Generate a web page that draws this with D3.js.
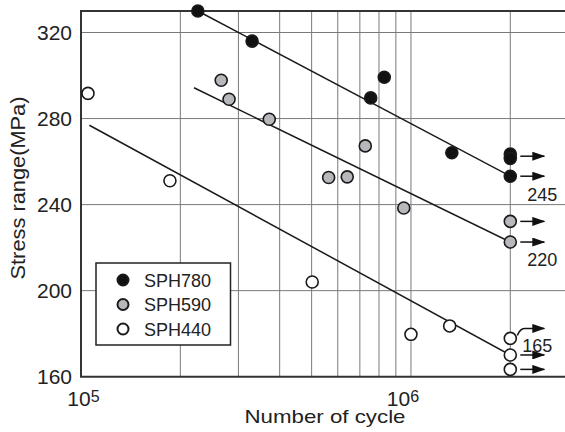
<!doctype html>
<html lang="en">
<head>
<meta charset="utf-8">
<title>Stress range vs number of cycle</title>
<script src="https://d3js.org/d3.v7.min.js"></script>
<style>
  body { margin: 0; background: #fff; }
  text { font-family: "Liberation Sans", Arial, sans-serif; fill: #222; }
</style>
</head>
<body>
<svg id="chart" width="565" height="432"></svg>
<script>
// measured data (cycles, stress range in MPa)
const sph780N = [2.26e5, 3.3e5, 7.55e5, 8.3e5, 1.33e6, 2e6, 2e6, 2e6];
const sph780S = [330, 316, 289.6, 299.2, 264.1, 263.5, 261.5, 253.2];
const sph590N = [2.66e5, 2.81e5, 3.72e5, 5.63e5, 6.41e5, 7.27e5, 9.51e5, 2e6, 2e6];
const sph590S = [297.8, 289.0, 279.7, 252.6, 252.9, 267.3, 238.4, 232.2, 222.6];
const sph440N = [1.05e5, 1.86e5, 5.02e5, 1e6, 1.31e6, 2e6, 2e6, 2e6];
const sph440S = [291.7, 251.1, 204.0, 179.7, 183.6, 177.8, 170.1, 163.4];

// S-N regression lines (end points)
const fit780 = [[2.26e5, 330], [2e6, 253.2]];
const fit590 = [[2.2e5, 294.3], [2e6, 222.6]];
const fit440 = [[1.06e5, 276.9], [2e6, 170.1]];

// run-outs at 2e6 cycles (arrow stress levels)
const runout780 = [262.5, 253.2];
const runout590 = [232.2, 222.6];
const runout440 = [170.1, 163.4];
const bentRunout440 = [177.8];

const limitLabels = ["245", "220", "165"];
const seriesNames = ["SPH780", "SPH590", "SPH440"];
const seriesFill = ["#111", "#b6b8bc", "#fff"];
const yTicks = [160, 200, 240, 280, 320];
const xGrid = [2e5, 3e5, 4e5, 5e5, 6e5, 7e5, 8e5, 9e5, 1e6, 2e6];

const svg = d3.select("#chart");
const x = d3.scaleLog().domain([1e5, 3e6]).range([81, 568.4]);
const y = d3.scaleLinear().domain([160, 330]).range([376.7, 11]);

// grid
svg.append("g").selectAll("line").data(xGrid).join("line")
  .attr("x1", d => x(d)).attr("x2", d => x(d))
  .attr("y1", y(330)).attr("y2", y(160))
  .attr("stroke", "#7a7a7a").attr("stroke-width", 1);
svg.append("g").selectAll("line").data(yTicks.slice(1)).join("line")
  .attr("x1", x(1e5)).attr("x2", 565)
  .attr("y1", d => y(d)).attr("y2", d => y(d))
  .attr("stroke", "#7a7a7a").attr("stroke-width", 1);

// frame
svg.append("path")
  .attr("d", `M565,${y(330)}H${x(1e5)}V${y(160)}H565`)
  .attr("fill", "none").attr("stroke", "#333").attr("stroke-width", 2);

// y tick labels
svg.append("g").selectAll("text").data(yTicks).join("text")
  .attr("x", 72).attr("y", d => y(d) + 7.5)
  .attr("text-anchor", "end").attr("font-size", 21)
  .text(d => d);

// x tick labels (10^n)
const xLab = [[1e5, "5", 2.5], [1e6, "6", -8]];
xLab.forEach(([v, p, off]) => {
  const t = svg.append("text")
    .attr("x", x(v) + off).attr("y", 406)
    .attr("text-anchor", "middle").attr("font-size", 21);
  t.append("tspan").text("10");
  t.append("tspan").attr("font-size", 16).attr("dy", -4.5).text(p);
});

// axis titles
svg.append("text")
  .attr("x", 325).attr("y", 423).attr("text-anchor", "middle")
  .attr("font-size", 19).attr("textLength", 161).attr("lengthAdjust", "spacingAndGlyphs")
  .text("Number of cycle");
svg.append("text")
  .attr("transform", "translate(25,188) rotate(-90)")
  .attr("text-anchor", "middle").attr("font-size", 20.5)
  .attr("textLength", 183).attr("lengthAdjust", "spacingAndGlyphs")
  .text("Stress range(MPa)");

// regression lines
const line = d3.line().x(d => x(d[0])).y(d => y(d[1]));
[fit780, fit590, fit440].forEach(f => {
  svg.append("path").attr("d", line(f))
    .attr("fill", "none").attr("stroke", "#1a1a1a").attr("stroke-width", 1.5);
});

// run-out arrows
svg.append("defs").append("marker")
  .attr("id", "arr").attr("viewBox", "0 0 13 9")
  .attr("refX", 12).attr("refY", 4.5)
  .attr("markerWidth", 13).attr("markerHeight", 9)
  .attr("markerUnits", "userSpaceOnUse").attr("orient", "auto")
  .append("path").attr("d", "M0,0L13,4.5L0,9Z").attr("fill", "#111");

const xr = x(2e6);
[...runout780, ...runout590, ...runout440].forEach(s => {
  svg.append("line")
    .attr("x1", xr + 10).attr("x2", xr + 34)
    .attr("y1", y(s)).attr("y2", y(s))
    .attr("stroke", "#111").attr("stroke-width", 1.5)
    .attr("marker-end", "url(#arr)");
});
bentRunout440.forEach(s => {
  const y0 = y(s);
  svg.append("path")
    .attr("d", `M${xr + 7},${y0 - 3}Q${xr + 10},${y0 - 10} ${xr + 14},${y0 - 10}H${xr + 34}`)
    .attr("fill", "none").attr("stroke", "#111").attr("stroke-width", 1.5)
    .attr("marker-end", "url(#arr)");
});

// points
const series = [[sph780N, sph780S], [sph590N, sph590S], [sph440N, sph440S]];
series.forEach(([ns, ss], i) => {
  svg.append("g").selectAll("circle").data(ns.map((n, j) => [n, ss[j]])).join("circle")
    .attr("cx", d => x(d[0])).attr("cy", d => y(d[1])).attr("r", 6)
    .attr("fill", seriesFill[i]).attr("stroke", "#1a1a1a").attr("stroke-width", 1.6);
});

// fatigue limit labels
const labPos = [y(runout780[1]) + 25, y(runout590[1]) + 24, y(bentRunout440[0]) + 14];
limitLabels.forEach((t, i) => {
  svg.append("text")
    .attr("x", i === 2 ? xr + 12 : xr + 17).attr("y", labPos[i])
    .attr("font-size", 18).text(t);
});

// legend
const lg = svg.append("g");
lg.append("rect").attr("x", 96).attr("y", 263).attr("width", 134.5).attr("height", 82)
  .attr("fill", "#fff").attr("stroke", "#222").attr("stroke-width", 1.5);
seriesNames.forEach((nm, i) => {
  const cy = 280 + i * 24.5;
  lg.append("circle").attr("cx", 123).attr("cy", cy).attr("r", 5.5)
    .attr("fill", seriesFill[i]).attr("stroke", "#1a1a1a").attr("stroke-width", 2);
  lg.append("text").attr("x", 144).attr("y", cy + 6.5)
    .attr("font-size", 18).text(nm);
});
</script>
</body>
</html>
